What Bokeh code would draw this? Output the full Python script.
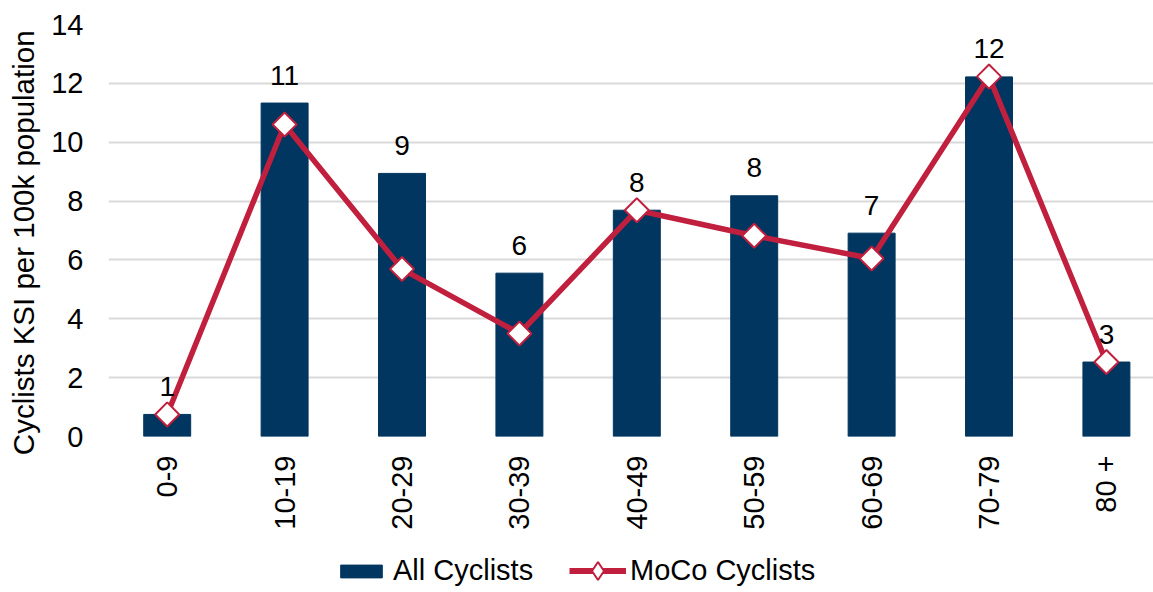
from bokeh.plotting import figure
from bokeh.models import Range1d, FixedTicker, Legend, LegendItem, ColumnDataSource
from bokeh.layouts import column
from bokeh.core.properties import value
from bokeh.embed import file_html
from bokeh.resources import INLINE
import math

categories = ["0-9", "10-19", "20-29", "30-39", "40-49", "50-59", "60-69", "70-79", "80 +"]
all_cyclists = [0.75, 11.33, 8.94, 5.55, 7.69, 8.18, 6.91, 12.22, 2.53]
moco_cyclists = [0.75, 10.60, 5.69, 3.50, 7.69, 6.82, 6.05, 12.23, 2.53]
bar_labels = ["1", "11", "9", "6", "8", "8", "7", "12", "3"]
y_ticks = [0, 2, 4, 6, 8, 10, 12, 14]
series_names = ["All Cyclists", "MoCo Cyclists"]
y_title = "Cyclists KSI per 100k population"

FONT = "Liberation Sans"
NAVY = "#00365F"
RED = "#C01F3E"

xs = list(range(len(categories)))
src = ColumnDataSource(dict(x=xs, bar=all_cyclists, moco=moco_cyclists, lab=bar_labels))

p = figure(width=1153, height=548, output_backend="svg", toolbar_location=None,
           x_range=Range1d(-0.5, 8.401), y_range=Range1d(0, 14),
           min_border_left=108, min_border_right=0, min_border_top=24, min_border_bottom=112)
p.outline_line_color = None
p.background_fill_color = "white"
p.border_fill_color = "white"

bars = p.vbar(x="x", top="bar", width=0.40, source=src, fill_color=NAVY, line_color=NAVY)
line = p.line(x="x", y="moco", source=src, line_color=RED, line_width=5.5)
marks = p.scatter(x="x", y="moco", source=src, marker="square", angle=math.pi / 4, size=17,
                  fill_color="white", line_color=RED, line_width=2)
p.text(x="x", y="bar", text="lab", source=src, text_align="center", text_baseline="middle",
       y_offset=-28, text_font=value(FONT), text_font_size="28px", text_color="black")

# axes
p.xaxis.ticker = FixedTicker(ticks=xs)
p.xaxis.major_label_overrides = {i: c for i, c in enumerate(categories)}
p.xaxis.major_label_orientation = math.pi / 2
p.xaxis.axis_line_color = None
p.xaxis.major_tick_line_color = None
p.xaxis.minor_tick_line_color = None
p.xaxis.major_tick_out = 0
p.xaxis.major_label_standoff = 19
p.xaxis.major_label_text_font = FONT
p.xaxis.major_label_text_font_size = "29px"
p.xaxis.major_label_text_color = "black"

p.yaxis.ticker = FixedTicker(ticks=y_ticks)
p.yaxis.axis_line_color = None
p.yaxis.major_tick_line_color = None
p.yaxis.minor_tick_line_color = None
p.yaxis.major_tick_out = 0
p.yaxis.major_label_standoff = 25
p.yaxis.major_label_text_font = FONT
p.yaxis.major_label_text_font_size = "29px"
p.yaxis.major_label_text_color = "black"
# trailing no-break spaces nudge the centred title slightly downwards, as in the original
p.yaxis.axis_label = y_title + "\u00a0\u00a0\u00a0"
p.yaxis.axis_label_text_font = FONT
p.yaxis.axis_label_text_font_size = "29.5px"
p.yaxis.axis_label_text_font_style = "normal"
p.yaxis.axis_label_text_color = "black"
p.yaxis.axis_label_standoff = 8

p.xgrid.grid_line_color = None
p.ygrid.grid_line_color = "#D9D9D9"
p.ygrid.grid_line_width = 2

# legend strip (separate figure below the chart; its frame aligns with the chart's frame)
lg = figure(width=1153, height=44, output_backend="svg", toolbar_location=None,
            x_range=Range1d(-30, -29), y_range=Range1d(-30, -29), x_axis_type=None, y_axis_type=None,
            min_border_left=0, min_border_right=0, min_border_top=0, min_border_bottom=0)
lg.outline_line_color = None
lg.xgrid.visible = False
lg.ygrid.visible = False
lb = lg.vbar(x="x", top="bar", width=0.4, source=src, fill_color=NAVY, line_color=NAVY)
ll = lg.line(x="x", y="moco", source=src, line_color=RED, line_width=6)
lm = lg.scatter(x="x", y="moco", source=src, marker="diamond", size=17,
                fill_color="white", line_color=RED, line_width=2)

common = dict(orientation="horizontal", padding=0, margin=0,
              border_line_color=None, background_fill_alpha=0,
              label_text_font=FONT, label_text_font_size="29px", label_text_color="black")
leg1 = Legend(items=[LegendItem(label=series_names[0], renderers=[lb], index=0)],
              location=(227, 5), glyph_width=52, glyph_height=16, label_standoff=6, **common)
leg2 = Legend(items=[LegendItem(label=series_names[1], renderers=[ll, lm], index=0)],
              location=(461, -1), glyph_width=57, glyph_height=45, label_standoff=4, **common)
lg.add_layout(leg1, "center")
lg.add_layout(leg2, "center")

layout = column(p, lg, spacing=0)
open("out.html", "w").write(file_html(layout, INLINE))
